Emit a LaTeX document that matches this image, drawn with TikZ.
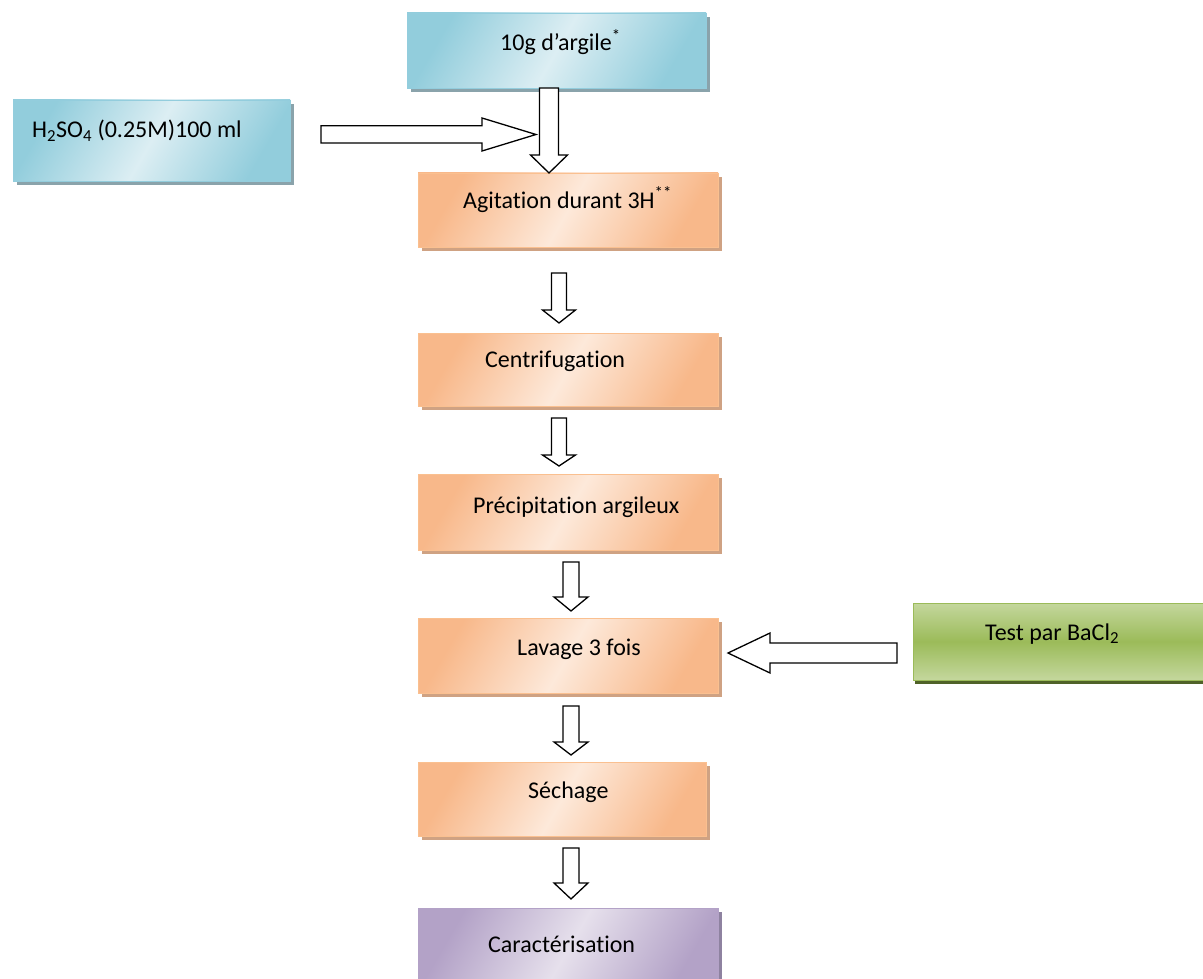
\documentclass[tikz,border=0pt]{standalone}
\usepackage{fontspec}
\setmainfont{Carlito}[Ligatures=NoCommon]
\usetikzlibrary{shadows}
\definecolor{bluedark}{HTML}{92CDDC}
\definecolor{bluelight}{HTML}{DCEEF3}
\definecolor{blueborder}{HTML}{93CDDD}
\definecolor{blueshadow}{HTML}{8AA3AB}
\definecolor{orgdark}{HTML}{F8B88A}
\definecolor{orglight}{HTML}{FDE9DA}
\definecolor{orgborder}{HTML}{FAC090}
\definecolor{orgshadow}{HTML}{CFA283}
\definecolor{grnlight}{HTML}{C4D79D}
\definecolor{grndark}{HTML}{9BBB59}
\definecolor{grnshadow}{HTML}{4F6228}
\definecolor{purdark}{HTML}{B3A2C7}
\definecolor{purlight}{HTML}{E6E0EC}
\definecolor{purshadow}{HTML}{8E82A0}
\newcommand\vArr[5]{% x, top, head start, tip, shaft half width
  \draw[blockarrow] (#1-#5,#2) -- (#1+#5,#2) -- (#1+#5,#3) -- (#1+#5+9,#3)
    -- (#1,#4) -- (#1-#5-9,#3) -- (#1-#5,#3) -- cycle;}
\begin{document}
\begin{tikzpicture}[x=1pt,y=-1pt,
  box/.style={rectangle,inner sep=0pt,outer sep=0pt,line width=0.8pt},
  bluebox/.style={box,draw=blueborder,top color=bluedark,bottom color=bluedark,middle color=bluelight,shading angle=60,
     general shadow={fill=blueshadow,shadow xshift=4pt,shadow yshift=-4pt}},
  orgbox/.style={box,draw=orgborder,top color=orgdark,bottom color=orgdark,middle color=orglight,shading angle=60,
     general shadow={fill=orgshadow,shadow xshift=4pt,shadow yshift=-4pt}},
  grnbox/.style={box,draw=grndark,top color=grnlight,bottom color=grnlight,middle color=grndark,
     general shadow={fill=grnshadow,shadow xshift=2pt,shadow yshift=-4pt}},
  purbox/.style={box,draw=purdark,top color=purdark,bottom color=purdark,middle color=purlight,shading angle=60,
     general shadow={fill=purshadow,shadow xshift=4pt,shadow yshift=-4pt}},
  txt/.style={inner sep=0pt,anchor=base west,font=\fontsize{24}{29}\selectfont,text=black},
  blockarrow/.style={draw=black,fill=white,line width=1.3pt,line join=miter}]
\useasboundingbox (0,0) rectangle (1203,979);
\clip (0,0) rectangle (1203,979);
\fill[white] (0,0) rectangle (1203,979);
% boxes
\node[bluebox,minimum width=299pt,minimum height=75pt] (b1) at (556.5,50.5) {};
\node[bluebox,minimum width=277pt,minimum height=81pt] (acid) at (151.5,140.5) {};
\node[orgbox,minimum width=300pt,minimum height=74pt] (agit) at (568,210) {};
\node[orgbox,minimum width=300pt,minimum height=73pt] (centri) at (568,369.5) {};
\node[orgbox,minimum width=300pt,minimum height=76pt] (precip) at (568,512) {};
\node[orgbox,minimum width=300pt,minimum height=75pt] (lav) at (568,655.5) {};
\node[orgbox,minimum width=288pt,minimum height=74pt] (sech) at (562,799) {};
\node[purbox,minimum width=300pt,minimum height=82pt] (carac) at (568,949) {};
\node[grnbox,minimum width=297pt,minimum height=77pt] (test) at (1061.5,641.5) {};
% texts
\node[txt] (t1) at (500,51) {10g d’argile\textsuperscript{*}};
\node[txt] (t2) at (32,138) {H\textsubscript{2}SO\textsubscript{4} (0.25M)100 ml};
\node[txt] (t3) at (463,208) {Agitation durant 3H\textsuperscript{**}};
\node[txt] (t4) at (485,367) {Centrifugation};
\node[txt] (t5) at (473,513) {Précipitation argileux};
\node[txt] (t6) at (517,655) {Lavage 3 fois};
\node[txt] (t7) at (528,798) {Séchage};
\node[txt] (t8) at (488,952) {Caractérisation};
\node[txt] (t9) at (985,640) {Test par BaCl\textsubscript{2}};
% block arrows
\draw[blockarrow] (321,125.7) -- (482,125.7) -- (482,118) -- (536,134.5)
   -- (482,151) -- (482,143) -- (321,143) -- cycle;
\vArr{549}{88}{155}{173}{9.5}
\vArr{559}{273}{310}{323}{7.5}
\vArr{559}{418}{455}{466}{7.5}
\vArr{571}{562}{597}{611}{8}
\vArr{571}{706}{742}{755}{8}
\vArr{571}{848}{883}{899}{8}
\draw[blockarrow] (897,643) -- (770,643) -- (770,633) -- (728,653)
   -- (770,673) -- (770,663) -- (897,663) -- cycle;
\end{tikzpicture}
\end{document}
